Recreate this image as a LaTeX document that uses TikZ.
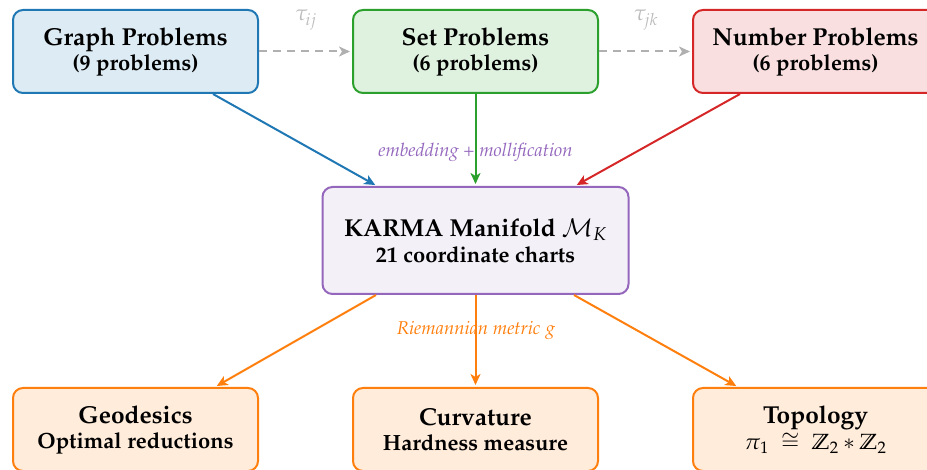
\documentclass[tikz,border=0pt]{standalone}
\usepackage[T1]{fontenc}
\usepackage{mathpazo}
\usetikzlibrary{arrows.meta,calc}

\definecolor{cblue}{HTML}{1F77B4}
\definecolor{cgreen}{HTML}{2CA02C}
\definecolor{cred}{HTML}{D62728}
\definecolor{cpurple}{HTML}{9467BD}
\definecolor{corange}{HTML}{FF7F0E}
\definecolor{cgray}{HTML}{B0B0B0}

\newcommand{\titlefont}{\fontsize{24.5}{26}\selectfont\bfseries}
\newcommand{\subfont}{\fontsize{22}{26}\selectfont\bfseries}

\tikzset{
  box/.style={draw, line width=2pt, rounded corners=10pt, minimum width=245pt,
    minimum height=83pt, align=center, inner sep=0pt,
    font=\fontsize{24}{25}\selectfont},
  hub/.style={box, minimum width=306pt, minimum height=107pt,
    font=\fontsize{24}{26}\selectfont},
  arr/.style={line width=2pt, -{Stealth[length=11pt,width=10pt,inset=3pt]}, shorten >=2pt},
  dasharr/.style={arr, cgray, dash pattern=on 8pt off 6pt},
  edgelabel/.style={font=\fontsize{18.5}{20}\selectfont\itshape},
  translabel/.style={font=\fontsize{22}{24}\selectfont, text=cgray!85, inner sep=1pt},
}

\begin{document}
\begin{tikzpicture}[x=1pt,y=-1pt]
\useasboundingbox (0,0) rectangle (927,470);
\clip (0,0) rectangle (927,470);

% problem families
\node[box, draw=cblue, fill=cblue!15] (graph) at (135.5,51.5)
  {\titlefont Graph Problems\\\subfont (9 problems)};
\node[box, draw=cgreen, fill=cgreen!15] (set) at (475.5,51.5)
  {\titlefont Set Problems\\\subfont (6 problems)};
\node[box, draw=cred, fill=cred!15] (number) at (815.5,51.5)
  {\titlefont Number Problems\\\subfont (6 problems)};

% the manifold
\node[hub, draw=cpurple, fill=cpurple!10] (karma) at (475.5,240.5)
  {\fontsize{24.5}{26}\selectfont\bfseries KARMA Manifold $\mathcal{M}_K$\\\subfont 21 coordinate charts};

% geometric structure
\node[box, draw=corange, fill=corange!15] (geo) at (135.5,429.5)
  {\titlefont Geodesics\\\subfont Optimal reductions};
\node[box, draw=corange, fill=corange!15] (curv) at (475.5,429.5)
  {\titlefont Curvature\\\subfont Hardness measure};
\node[box, draw=corange, fill=corange!15] (topo) at (815.5,429.5)
  {\titlefont Topology\\[1pt]\fontsize{22}{26}\selectfont $\pi_1 \;\cong\; \mathbb{Z}_2 * \mathbb{Z}_2$};

% transfers between families
\draw[dasharr] (graph.east) -- (set.west);
\draw[dasharr] (set.east) -- (number.west);
\node[translabel] (tij) at (306,20) {$\tau_{ij}$};
\node[translabel] (tjk) at (646,20) {$\tau_{jk}$};

% embeddings into the manifold
\draw[arr, cblue] ($(graph.south)+(77.5,0)$) -- ($(karma.north)+(-98.5,0)$);
\draw[arr, cgreen] (set.south) -- (karma.north);
\draw[arr, cred] ($(number.south)+(-75.5,0)$) -- ($(karma.north)+(99.5,0)$);
\node[edgelabel, text=cpurple] (emb) at (475.5,152) {embedding + mollification};

% metric structure
\draw[arr, corange] ($(karma.south)+(-99.5,0)$) -- ($(geo.north)+(79.5,0)$);
\draw[arr, corange] (karma.south) -- (curv.north);
\draw[arr, corange] ($(karma.south)+(98.5,0)$) -- ($(topo.north)+(-77.5,0)$);
\node[edgelabel, text=corange] (met) at (476,330) {Riemannian metric $g$};
\end{tikzpicture}
\end{document}
